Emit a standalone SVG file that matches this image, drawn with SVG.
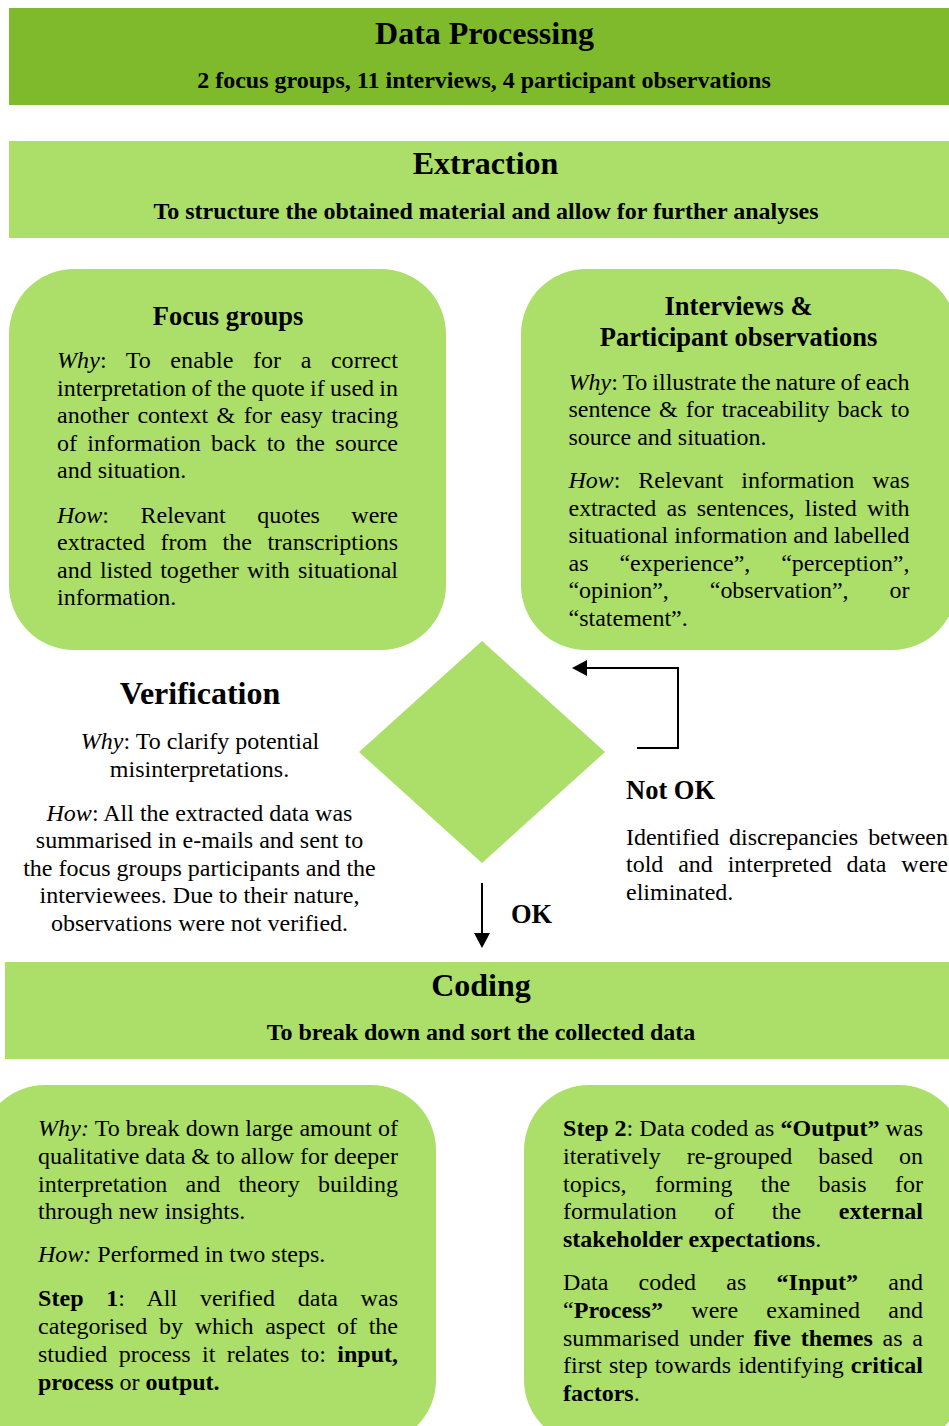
<svg xmlns="http://www.w3.org/2000/svg" width="949" height="1426" viewBox="0 0 949 1426">
  <style>
    text { font-family: "Liberation Serif", "Times New Roman", serif; fill: #000; }
    .t { font-size: 24px; }
    .c { font-size: 24px; text-anchor: middle; }
    .b { font-weight: bold; }
    .i { font-style: italic; }
    .h1 { font-size: 32px; font-weight: bold; text-anchor: middle; }
    .sub { font-size: 24px; font-weight: bold; text-anchor: middle; }
    .h2 { font-size: 26.5px; font-weight: bold; }
    .mid { text-anchor: middle; }
    .dark { fill: #7eba2c; }
    .light { fill: #acde6a; }
    .wire { fill: none; stroke: #000; stroke-width: 2; }
  </style>
  <defs>
    <marker id="ah" viewBox="0 0 16 16" markerWidth="16" markerHeight="16" refX="5" refY="8" orient="auto" markerUnits="userSpaceOnUse">
      <path d="M0,0 L15,8 L0,16 z" fill="#000"/>
    </marker>
  </defs>

  <!-- Title bar -->
  <g id="data-processing">
    <rect class="dark" x="9" y="8" width="940" height="97"/>
    <text class="h1" x="484.5" y="43.5">Data Processing</text>
    <text class="sub" x="484" y="87.5">2 focus groups, 11 interviews, 4 participant observations</text>
  </g>

  <!-- Extraction stage -->
  <g id="extraction">
    <rect class="light" x="9" y="141" width="940" height="97"/>
    <text class="h1" x="485.5" y="173.5">Extraction</text>
    <text class="sub" x="486" y="218.5">To structure the obtained material and allow for further analyses</text>
  </g>

  <g id="focus-groups">
    <rect class="light" x="9" y="269" width="437" height="381" rx="65" ry="65"/>
    <text class="h2 mid" x="228" y="324.5">Focus groups</text>
    <text class="t" x="57" y="368" textLength="341" lengthAdjust="spacing" word-spacing="13.4"><tspan class="i">Why</tspan>: To enable for a correct</text>
    <text class="t" x="57" y="395.5" textLength="341" lengthAdjust="spacing" word-spacing="-0.7">interpretation of the quote if used in</text>
    <text class="t" x="57" y="423" textLength="341" lengthAdjust="spacing" word-spacing="2.5">another context &amp; for easy tracing</text>
    <text class="t" x="57" y="450.5" textLength="341" lengthAdjust="spacing" word-spacing="4.3">of information back to the source</text>
    <text class="t" x="57" y="478">and situation.</text>
    <text class="t" x="57" y="522.5" textLength="341" lengthAdjust="spacing" word-spacing="25.5"><tspan class="i">How</tspan>: Relevant quotes were</text>
    <text class="t" x="57" y="550" textLength="341" lengthAdjust="spacing" word-spacing="9.5">extracted from the transcriptions</text>
    <text class="t" x="57" y="577.5" textLength="341" lengthAdjust="spacing" word-spacing="2.2">and listed together with situational</text>
    <text class="t" x="57" y="605">information.</text>
  </g>

  <g id="interviews">
    <rect class="light" x="521" y="269" width="436" height="381" rx="65" ry="65"/>
    <text class="h2 mid" x="738.5" y="315">Interviews &amp;</text>
    <text class="h2 mid" x="738.5" y="346">Participant observations</text>
    <text class="t" x="568.5" y="389.5" textLength="341" lengthAdjust="spacing" word-spacing="-1"><tspan class="i">Why</tspan>: To illustrate the nature of each</text>
    <text class="t" x="568.5" y="417" textLength="341" lengthAdjust="spacing" word-spacing="2.2">sentence &amp; for traceability back to</text>
    <text class="t" x="568.5" y="444.5">source and situation.</text>
    <text class="t" x="568.5" y="488" textLength="341" lengthAdjust="spacing" word-spacing="12"><tspan class="i">How</tspan>: Relevant information was</text>
    <text class="t" x="568.5" y="515.5" textLength="341" lengthAdjust="spacing" word-spacing="4.3">extracted as sentences, listed with</text>
    <text class="t" x="568.5" y="543" textLength="341" lengthAdjust="spacing" word-spacing="0">situational information and labelled</text>
    <text class="t" x="568.5" y="570.5" textLength="341" lengthAdjust="spacing" word-spacing="25">as “experience”, “perception”,</text>
    <text class="t" x="568.5" y="598" textLength="341" lengthAdjust="spacing" word-spacing="35">“opinion”, “observation”, or</text>
    <text class="t" x="568.5" y="625.5">“statement”.</text>
  </g>

  <g id="verification">
    <polygon class="light" points="482,641 605,752 482,863 359,752"/>
    <text class="h1" x="200" y="704">Verification</text>
    <text class="c" x="200" y="749"><tspan class="i">Why</tspan>: To clarify potential</text>
    <text class="c" x="199.5" y="776.5">misinterpretations.</text>
    <text class="c" x="199.5" y="820.5"><tspan class="i">How</tspan>: All the extracted data was</text>
    <text class="c" x="199.5" y="848">summarised in e-mails and sent to</text>
    <text class="c" x="199.5" y="875.8">the focus groups participants and the</text>
    <text class="c" x="199.5" y="903.3">interviewees. Due to their nature,</text>
    <text class="c" x="199.5" y="931">observations were not verified.</text>
  </g>

  <g id="not-ok">
    <text class="h2" x="626" y="799">Not OK</text>
    <text class="t" x="626" y="844.5" textLength="322" lengthAdjust="spacing" word-spacing="4">Identified discrepancies between</text>
    <text class="t" x="626" y="872" textLength="322" lengthAdjust="spacing" word-spacing="8.8">told and interpreted data were</text>
    <text class="t" x="626" y="899.5">eliminated.</text>
  </g>

  <g id="ok">
    <text class="h2" x="511" y="923">OK</text>
  </g>

  <g id="connectors">
    <path class="wire" d="M482,883 V938" marker-end="url(#ah)"/>
    <path class="wire" d="M637,748 H678 V668 H582" marker-end="url(#ah)"/>
  </g>

  <!-- Coding stage -->
  <g id="coding">
    <rect class="light" x="5" y="962" width="944" height="97"/>
    <text class="h1" x="481" y="995.5">Coding</text>
    <text class="sub" x="481" y="1040">To break down and sort the collected data</text>
  </g>

  <g id="coding-why-how">
    <rect class="light" x="-20" y="1085" width="456" height="360" rx="65" ry="65"/>
    <text class="t" x="38" y="1136" textLength="360" lengthAdjust="spacing" word-spacing="0"><tspan class="i">Why:</tspan> To break down large amount of</text>
    <text class="t" x="38" y="1163.5" textLength="360" lengthAdjust="spacing" word-spacing="0">qualitative data &amp; to allow for deeper</text>
    <text class="t" x="38" y="1191.5" textLength="360" lengthAdjust="spacing" word-spacing="12.2">interpretation and theory building</text>
    <text class="t" x="38" y="1219">through new insights.</text>
    <text class="t" x="38" y="1262"><tspan class="i">How:</tspan> Performed in two steps.</text>
    <text class="t" x="38" y="1306" textLength="360" lengthAdjust="spacing" word-spacing="16.7"><tspan class="b">Step 1</tspan>: All verified data was</text>
    <text class="t" x="38" y="1334" textLength="360" lengthAdjust="spacing" word-spacing="5.8">categorised by which aspect of the</text>
    <text class="t" x="38" y="1361.5" textLength="360" lengthAdjust="spacing" word-spacing="5.3">studied process it relates to: <tspan class="b">input,</tspan></text>
    <text class="t" x="38" y="1389.5"><tspan class="b">process</tspan> or <tspan class="b">output.</tspan></text>
  </g>

  <g id="coding-steps">
    <rect class="light" x="524" y="1085" width="440" height="360" rx="65" ry="65"/>
    <text class="t" x="563" y="1136" textLength="360" lengthAdjust="spacing" word-spacing="0"><tspan class="b">Step 2</tspan>: Data coded as <tspan class="b">“Output”</tspan> was</text>
    <text class="t" x="563" y="1163.5" textLength="360" lengthAdjust="spacing" word-spacing="19.9">iteratively re-grouped based on</text>
    <text class="t" x="563" y="1191.5" textLength="360" lengthAdjust="spacing" word-spacing="22.2">topics, forming the basis for</text>
    <text class="t" x="563" y="1219" textLength="360" lengthAdjust="spacing" word-spacing="31.5">formulation of the <tspan class="b">external</tspan></text>
    <text class="t" x="563" y="1246.5"><tspan class="b">stakeholder expectations</tspan>.</text>
    <text class="t" x="563" y="1290" textLength="360" lengthAdjust="spacing" word-spacing="24.1">Data coded as <tspan class="b">“Input”</tspan> and</text>
    <text class="t" x="563" y="1318" textLength="360" lengthAdjust="spacing" word-spacing="22.1">“<tspan class="b">Process”</tspan> were examined and</text>
    <text class="t" x="563" y="1345.5" textLength="360" lengthAdjust="spacing" word-spacing="3.7">summarised under <tspan class="b">five themes</tspan> as a</text>
    <text class="t" x="563" y="1373" textLength="360" lengthAdjust="spacing" word-spacing="1.1">first step towards identifying <tspan class="b">critical</tspan></text>
    <text class="t" x="563" y="1401"><tspan class="b">factors</tspan>.</text>
  </g>
</svg>
